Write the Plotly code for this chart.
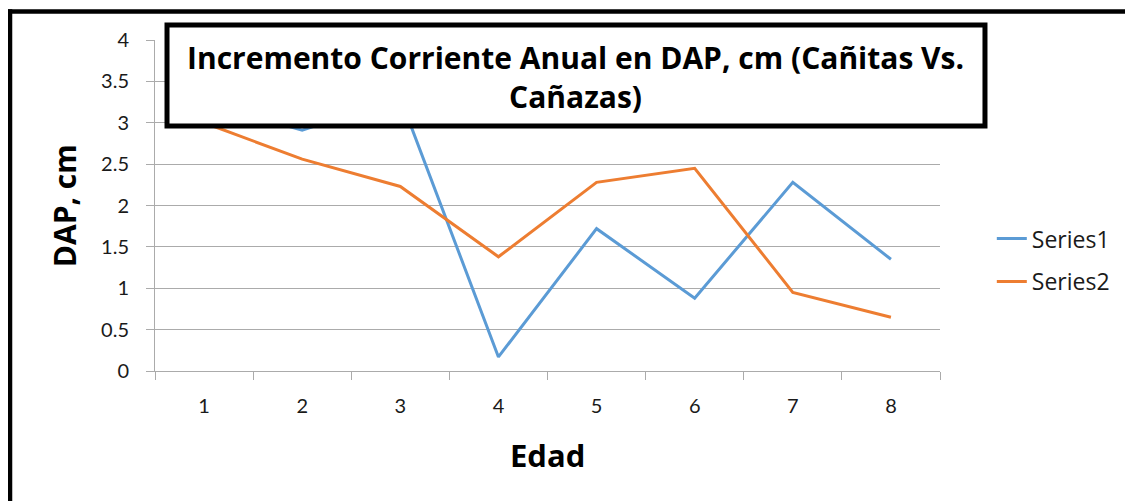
import plotly.graph_objects as go

edad = [1, 2, 3, 4, 5, 6, 7, 8]
series1 = [3.25, 2.91, 3.3, 0.17, 1.72, 0.88, 2.28, 1.35]
series2 = [3.0, 2.56, 2.23, 1.38, 2.28, 2.45, 0.95, 0.65]
y_ticks = [0, 0.5, 1, 1.5, 2, 2.5, 3, 3.5, 4]
y_tick_text = ["0", "0.5", "1", "1.5", "2", "2.5", "3", "3.5", "4"]

FONT = "Lato"
BOLD_FONT = "Open Sans"
GRID = "#ababab"

fig = go.Figure()
fig.add_trace(go.Scatter(x=edad, y=series1, mode="lines", name="Series1",
                         line=dict(color="#5B9BD5", width=3), legendgroup="a"))
fig.add_trace(go.Scatter(x=edad, y=series2, mode="lines", name="Series2",
                         line=dict(color="#ED7D31", width=3), legendgroup="b"))

# the page body has an 8px margin, so the figure is sized to fit the window
fig.update_layout(
    width=1125, height=493,
    margin=dict(l=147, r=193, t=32, b=130),
    paper_bgcolor="white", plot_bgcolor="white",
    font=dict(family=FONT, size=20, color="#1a1a1a"),
    showlegend=True,
    legend=dict(x=1.066, y=0.335, xanchor="left", yanchor="middle",
                font=dict(family=BOLD_FONT, size=23, color="#1a1a1a"), tracegroupgap=10,
                bgcolor="rgba(0,0,0,0)"),
    xaxis=dict(range=[0.5, 8.5], tickvals=edad, ticktext=[str(v) for v in edad],
               ticks="", ticklabelstandoff=17, showgrid=False, zeroline=False,
               showline=True, linecolor=GRID, linewidth=1,
               minor=dict(tick0=0.5, dtick=1, ticks="outside", ticklen=8,
                          tickcolor=GRID, showgrid=False)),
    yaxis=dict(range=[0, 4], tickvals=y_ticks, ticktext=y_tick_text,
               ticks="outside", ticklen=8, tickcolor=GRID, ticklabelstandoff=13,
               showgrid=True, gridcolor=GRID, gridwidth=1, zeroline=False,
               showline=True, linecolor=GRID, linewidth=1),
)

# outer chart border: only its top and left edges are inside the frame
fig.add_shape(type="line", xref="paper", yref="paper",
              x0=-0.1875, x1=1.3, y0=1.086, y1=1.086,
              line=dict(color="black", width=4.5), layer="above")
fig.add_shape(type="line", xref="paper", yref="paper",
              x0=-0.1847, x1=-0.1847, y0=-0.5, y1=1.093,
              line=dict(color="black", width=4.5), layer="above")

# title box
fig.add_shape(type="rect", xref="paper", yref="paper",
              x0=0.0153, x1=1.0573, y0=0.740, y1=1.045,
              line=dict(color="black", width=5), fillcolor="white", layer="above")
fig.add_annotation(xref="paper", yref="paper", x=0.536, y=0.888,
                   xanchor="center", yanchor="middle", showarrow=False,
                   text="<b>Incremento Corriente Anual en DAP, cm (Cañitas Vs.<br>Cañazas)</b>",
                   font=dict(family=BOLD_FONT, size=30, color="black"), align="center")

# axis titles
fig.add_annotation(xref="paper", yref="paper", x=-0.115, y=0.5,
                   xanchor="center", yanchor="middle", showarrow=False,
                   textangle=-90, text="<b>DAP, cm</b>",
                   font=dict(family=BOLD_FONT, size=30, color="black"))
fig.add_annotation(xref="paper", yref="paper", x=0.5, y=-0.254,
                   xanchor="center", yanchor="middle", showarrow=False,
                   text="<b>Edad</b>",
                   font=dict(family=BOLD_FONT, size=31, color="black"))

fig.write_html("out.html")
